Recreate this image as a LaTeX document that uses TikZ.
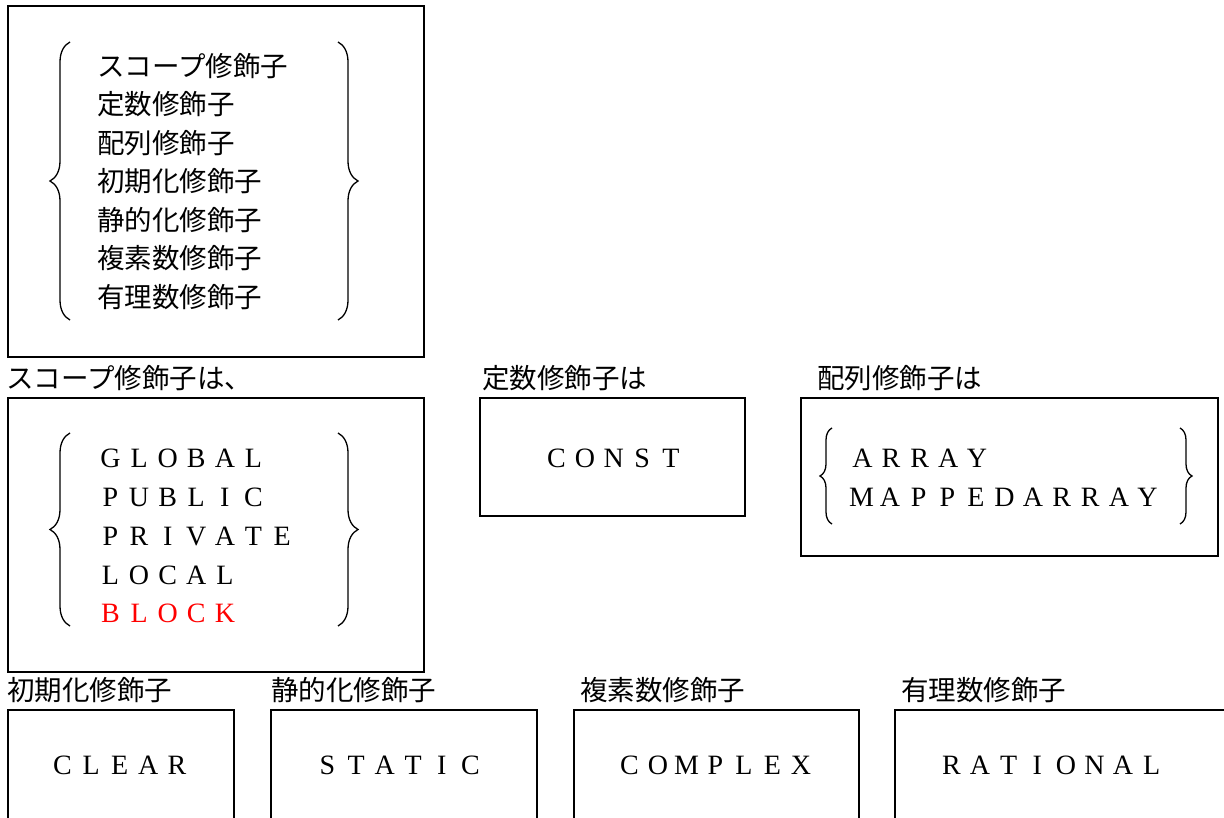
\documentclass[tikz,border=0pt]{standalone}
\usepackage{fontspec}
\setmainfont{Liberation Serif}
\newfontfamily\jp{Noto Sans CJK JP}
\usetikzlibrary{decorations.pathreplacing}
\newcommand\fwcell[1]{\makebox[28.6pt]{#1}}
\def\fwloop#1{\ifx#1\relax\else\fwcell{#1}\expandafter\fwloop\fi}
\newcommand\fw[1]{\fwloop#1\relax}
\tikzset{
  frame/.style={draw, line width=1.6pt, rectangle, anchor=north west, inner sep=0pt},
  jtxt/.style={font=\jp\fontsize{27.5}{30}\selectfont, anchor=west, inner sep=0pt},
  ltxt/.style={font=\fontsize{28}{30}\selectfont, anchor=west, inner sep=0pt},
  bigbrace/.style={decorate, decoration={brace, amplitude=#1}, line width=1.3pt},
}
\begin{document}
\begin{tikzpicture}[x=1pt,y=1pt]
\useasboundingbox (0,0) rectangle (1224,-818);
\clip (0,0) rectangle (1224,-818);
% top box
\node[frame, minimum width=416pt, minimum height=351pt] (b1) at (7,-5) {};
\draw[bigbrace=20pt] (70,-320) -- (70,-42);
\draw[bigbrace=20pt] (338,-42) -- (338,-320);
\foreach \t [count=\i from 0] in {スコープ修飾子,定数修飾子,配列修飾子,初期化修飾子,静的化修飾子,複素数修飾子,有理数修飾子}
  \node[jtxt] (t1-\i) at (97,{-66-38.5*\i}) {\t};
% labels row 2
\node[jtxt] (l2) at (6,-378) {スコープ修飾子は、};
\node[jtxt] (l3) at (482,-378) {定数修飾子は};
\node[jtxt] (l4) at (817,-378) {配列修飾子は};
% scope box
\node[frame, minimum width=416pt, minimum height=274pt] (b2) at (7,-397) {};
\draw[bigbrace=20pt] (70,-626) -- (70,-433);
\draw[bigbrace=20pt] (338,-433) -- (338,-626);
\node[ltxt] (s1) at (96,-458) {\fw{GLOBAL}};
\node[ltxt] (s2) at (96,-497) {\fw{PUBLIC}};
\node[ltxt] (s3) at (96,-536) {\fw{PRIVATE}};
\node[ltxt] (s4) at (96,-575) {\fw{LOCAL}};
\node[ltxt, text=red] (s5) at (96,-613) {\fw{BLOCK}};
% const box
\node[frame, minimum width=265pt, minimum height=118pt] (b3) at (479,-397) {};
\node[ltxt] (c1) at (542,-458) {\fw{CONST}};
% array box
\node[frame, minimum width=417pt, minimum height=158pt] (b4) at (800,-397) {};
\draw[bigbrace=12pt] (832,-524) -- (832,-428);
\draw[bigbrace=12pt] (1180,-428) -- (1180,-524);
\node[ltxt] (a1) at (848,-458) {\fw{ARRAY}};
\node[ltxt] (a2) at (847,-497) {\fw{MAPPEDARRAY}};
% bottom labels
\node[jtxt] (l5) at (7,-690) {初期化修飾子};
\node[jtxt] (l6) at (271,-690) {静的化修飾子};
\node[jtxt] (l7) at (580,-690) {複素数修飾子};
\node[jtxt] (l8) at (901,-690) {有理数修飾子};
% bottom boxes
\node[frame, minimum width=226pt, minimum height=200pt] (b5) at (7,-709) {};
\node[frame, minimum width=266pt, minimum height=200pt] (b6) at (270,-709) {};
\node[frame, minimum width=285pt, minimum height=200pt] (b7) at (573,-709) {};
\node[frame, minimum width=360pt, minimum height=200pt] (b8) at (894,-709) {};
\node[ltxt] (x1) at (48,-765) {\fw{CLEAR}};
\node[ltxt] (x2) at (313,-765) {\fw{STATIC}};
\node[ltxt] (x3) at (615,-765) {\fw{COMPLEX}};
\node[ltxt] (x4) at (937,-765) {\fw{RATIONAL}};
\end{tikzpicture}
\end{document}
